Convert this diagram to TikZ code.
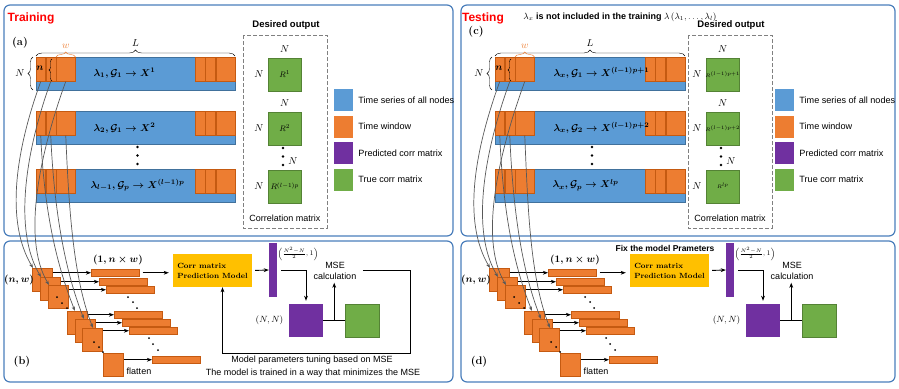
\documentclass[tikz,border=0pt]{standalone}
\usepackage[no-math]{fontspec}
\usepackage{amsmath,amssymb}
\usepackage{tikz}
\usetikzlibrary{calc,arrows.meta,positioning,decorations.pathreplacing}
\newfontfamily\lbf{Liberation Sans}
\definecolor{frame}{HTML}{4A7EBB}
\definecolor{tsblue}{HTML}{5B9BD5}
\definecolor{tsedge}{HTML}{41719C}
\definecolor{winc}{HTML}{ED7D31}
\definecolor{winedge}{HTML}{C55A11}
\definecolor{purp}{HTML}{7030A0}
\definecolor{grn}{HTML}{70AD47}
\definecolor{gold}{HTML}{FFC000}
\definecolor{linkc}{HTML}{595959}
\definecolor{redt}{HTML}{FF0000}
\tikzset{
  pnl/.style={draw=frame,line width=1.2pt,rounded corners=6pt},
  tsbar/.style={fill=tsblue,draw=tsedge,line width=0.5pt},
  win/.style={draw=winedge,fill=winc,line width=0.5pt,inner sep=0pt,anchor=north west,minimum height=24pt},
  sq/.style={draw=winedge,fill=winc,line width=0.5pt,inner sep=0pt,anchor=north west,minimum width=20pt,minimum height=23pt},
  flat/.style={draw=winedge,fill=winc,line width=0.5pt,inner sep=0pt,anchor=north west,minimum width=48pt,minimum height=7pt},
  gsq/.style={draw=grn!75!black,fill=grn,line width=0.5pt,inner sep=0pt,anchor=north west,minimum width=33pt,minimum height=33pt},
  legsq/.style={inner sep=0pt,anchor=north west,minimum width=19pt,minimum height=22pt},
  mat/.style={inner sep=0pt,minimum width=34pt,minimum height=33pt},
  dbox/.style={draw=gray,dash pattern=on 4pt off 2pt,line width=1pt},
  model/.style={fill=gold,inner sep=0pt,minimum width=79pt,minimum height=33pt,align=left,font=\bfseries\fontsize{7.5}{10}\selectfont},
  lbl/.style={font=\lbf\fontsize{9}{11}\selectfont},
  blbl/.style={font=\lbf\bfseries\fontsize{9}{11}\selectfont},
  ar/.style={-{Stealth[length=1.8mm]},line width=0.9pt},
  link/.style={-{Stealth[length=1.6mm]},linkc,line width=0.7pt}
}

\begin{document}
\begin{tikzpicture}[x=1pt,y=-1pt]
\useasboundingbox (0,0) rectangle (899,388);
% panels
\draw[pnl] (4,5) rectangle (453,236);
\draw[pnl] (4,241) rectangle (453,382);
\draw[pnl] (461,5) rectangle (895,236);
\draw[pnl] (461,241) rectangle (895,382);

% top panels (a) and (c)
\foreach \p/\xl/\xr/\xd/\xg/\xk in {a/36/235/243/268/334,c/495/685/688/706/775}{
  \foreach \i/\yt in {1/57,2/111,3/169}{
    \draw[tsbar] (\xl,\yt) rectangle (\xr,{\yt+33});
    \node[win,minimum width=9pt] (\p\i-1) at (\xl,\yt) {};
    \node[win,minimum width=10pt,right=0pt of \p\i-1] (\p\i-2) {};
    \node[win,minimum width=19pt,right=0pt of \p\i-2] (\p\i-3) {};
    \node[win,minimum width=19pt,anchor=north east] (\p\i-6) at (\xr,\yt) {};
    \node[win,minimum width=10pt,left=0pt of \p\i-6] (\p\i-5) {};
    \node[win,minimum width=10pt,left=0pt of \p\i-5] (\p\i-4) {};
    \node[gsq] (\p g\i) at (\xg,{\yt+0.5}) {};
    \node (\p gl\i) [left=1pt of \p g\i] {$N$};
  }
  \node (\p gt1) [above=1pt of \p g1] {$N$};
  \node (\p gt2) [above=1pt of \p g2] {$N$};
  \node (\p gt3) at ({\xg+25},161) {$N$};
  \foreach \k in {0,1,2}{
    \fill ({(\xl+\xr)/2+2},{147+8.5*\k}) circle (1.3pt);
    \fill ({\xg+15},{148+8.5*\k}) circle (1.3pt);
  }
  % braces
  \draw[decorate,decoration={brace,amplitude=6pt}] (\xl,56) -- (\xr,56) node[midway,above=6pt] (\p L) {$L$};
  \draw[winc,decorate,decoration={brace,amplitude=5pt}] (\p1-3.north west) -- (\p1-3.north east) node[midway,above=5pt,text=winc] (\p w) {$w$};
  \draw[decorate,decoration={brace,amplitude=5pt}] ({\xl-3},90) -- ({\xl-3},57) node[midway,left=5pt] (\p N) {$N$};
  \draw[decorate,decoration={brace,amplitude=3pt}] ({\xl+16},81) -- ({\xl+16},59);
  \node (\p n) at ({\xl+4},68) {$\boldsymbol{n}$};
  % desired output
  \draw[dbox] (\xd,35) rectangle ({\xd+84},228);
  \node[font=\lbf\bfseries\fontsize{9.5}{11}\selectfont] (\p des) at ({\xd+43},25) {Desired output};
  \node[lbl] (\p cor) at ({\xd+42},218) {Correlation matrix};
  % legend
  \foreach \cl/\tx [count=\q from 0] in {tsblue/Time series of all nodes,winc/Time window,purp/Predicted corr matrix,grn/True corr matrix}{
    \node[legsq,fill=\cl] (\p k\q) at (\xk,{89+26.5*\q}) {};
    \node[lbl,font=\lbf\fontsize{9.1}{11}\selectfont,right=1.5pt of \p k\q] (\p kt\q) {\tx};
  }
}

% bottom panels (b) and (d)
\foreach \p/\s in {b/0,d/457}{
\begin{scope}[xshift=\s]
  \foreach \k/\x/\y in {1/32/268,2/40/277,3/48/285,4/67/311,5/75/319,6/82/328,7/103/353}{
    \node[sq] (\p s\k) at (\x,\y) {};
  }
  \foreach \k/\x/\y in {1/91/269,2/99/278,3/106/286,4/114/311,5/122/319,6/129/327,7/152/356}{
    \node[flat] (\p f\k) at (\x,\y) {};
  }
  \foreach \k in {1,...,7}{
    \draw[ar] (\p s\k.east |- \p f\k.west) -- (\p f\k.west);
  }
  \foreach \x/\y in {57/297,62/303,67/308,94/342,99/347,103/352,128/297,133/302,137/308,149/338,153/344,158/350}{
    \fill (\x,\y) circle (1pt);
  }
  \node[font=\boldmath\fontsize{10}{12}\selectfont] (\p nw) at (19,280) {$(n,w)$};
  \node[font=\boldmath\fontsize{10}{12}\selectfont] (\p one) at (118,260) {$(1,n\times w)$};
  \node[lbl] (\p fl) at (139,371) {flatten};
  \node[font=\bfseries\fontsize{11}{12}\selectfont] (\p lab) at (22,362) {(\p)};
  % model and outputs
  \node[model] (\p m) at (212.5,270.5) {Corr matrix\\Prediction Model};
  \draw[ar,shorten <=3pt,shorten >=4pt] (\p f1.east) -- (\p f1.east -| \p m.west);
  \node[fill=purp,inner sep=0pt,minimum width=8pt,minimum height=54pt] (\p v) at (273,270) {};
  \draw[ar,shorten <=3pt] (\p m.east) -- (\p v.west);
  \node[font=\scriptsize] (\p fr) at (298,254) {$\left(\frac{N^2-N}{2},1\right)$};
  \node[mat,fill=purp] (\p ps) at (306,320.5) {};
  \node[mat,fill=grn,draw=grn!75!black] (\p gs) at (362.5,320.5) {};
  \draw[ar,shorten >=3pt] ([xshift=4pt]\p v.east) -| (\p ps.north);
  \node[font=\small] (\p nn) [left=2pt of \p ps] {$(N,N)$};
  \draw[line width=0.9pt] (\p ps.east) -- (\p gs.west);
  \coordinate (\p j) at ($(\p ps.east)!0.5!(\p gs.west)$);
  \node[lbl,align=center] (\p mse) at (335,270.5) {MSE\\calculation};
  \draw[ar] (\p j) -- (\p j |- \p mse.south);
\end{scope}
}

% feedback loop of (b)
\coordinate (fbk) at (410,353);
\draw[ar,shorten <=3pt] (bmse.east) -| (fbk) -| ([xshift=10pt]bm.south);
\node[lbl] (tune) at (312,360) {Model parameters tuning based on MSE};
\node[lbl] (mini) at (313,373) {The model is trained in a way that minimizes the MSE};
\node[font=\lbf\bfseries\fontsize{8.5}{10}\selectfont] (fix) at (665,248) {Fix the model Prameters};

% titles and labels
\node[font=\lbf\bfseries\fontsize{12}{14}\selectfont,text=redt] (trn) at (31,18) {Training};
\node[font=\lbf\bfseries\fontsize{12}{14}\selectfont,text=redt] (tst) at (483,18) {Testing};
\node[blbl] (notin) at (620,17) {$\lambda_x$ is not included in the training $\lambda\,(\lambda_1,\ldots,\lambda_l)$};
\node[font=\bfseries\fontsize{11}{12}\selectfont] (la) at (20,43) {(a)};
\node[font=\bfseries\fontsize{11}{12}\selectfont] (lc) at (476,32) {(c)};
\node[font=\boldmath,anchor=west] (at1) at (90,73) {$\lambda_1,\mathcal{G}_1\rightarrow X^1$};
\node[font=\boldmath,anchor=west] (at2) at (90,128) {$\lambda_2,\mathcal{G}_1\rightarrow X^2$};
\node[font=\boldmath,anchor=west] (at3) at (87,185) {$\lambda_{l-1},\mathcal{G}_p\rightarrow X^{(l-1)p}$};
\node[font=\boldmath,anchor=west] (ct1) at (550,73) {$\lambda_x,\mathcal{G}_1\rightarrow X^{(l-1)p+1}$};
\node[font=\boldmath,anchor=west] (ct2) at (550,128) {$\lambda_x,\mathcal{G}_2\rightarrow X^{(l-1)p+2}$};
\node[font=\boldmath,anchor=west] (ct3) at (549,185) {$\lambda_x,\mathcal{G}_p\rightarrow X^{lp}$};
\node[font=\footnotesize] (ar1) at (ag1) {$R^1$};
\node[font=\footnotesize] (ar2) at (ag2) {$R^2$};
\node[font=\footnotesize] (ar3) at (ag3) {$R^{(l-1)p}$};
\node[font=\fontsize{5}{6}\selectfont] (cr1) at (cg1) {$R^{(l-1)p+1}$};
\node[font=\fontsize{5}{6}\selectfont] (cr2) at (cg2) {$R^{(l-1)p+2}$};
\node[font=\fontsize{5}{6}\selectfont] (cr3) at (cg3) {$R^{lp}$};

% windows sent down to panels (b) and (d)
\foreach \tp/\bp in {a/b,c/d}{
  \foreach \k in {1,2,3}{
    \draw[link] (\tp1-\k.south) .. controls +(-25,69) and +(-28,-47) .. ([xshift=1pt]\bp s\k.north west);
  }
  \draw[link] (\tp2-1.south) .. controls +(3,70) and +(-20,-50) .. ([xshift=8pt]\bp s4.north west);
  \draw[link] (\tp2-2.south) .. controls +(3,70) and +(-20,-50) .. ([xshift=9pt]\bp s5.north west);
  \draw[link] (\tp2-3.south) .. controls +(3,70) and +(-20,-50) .. ([xshift=11pt]\bp s6.north west);
}
\end{tikzpicture}
\end{document}
